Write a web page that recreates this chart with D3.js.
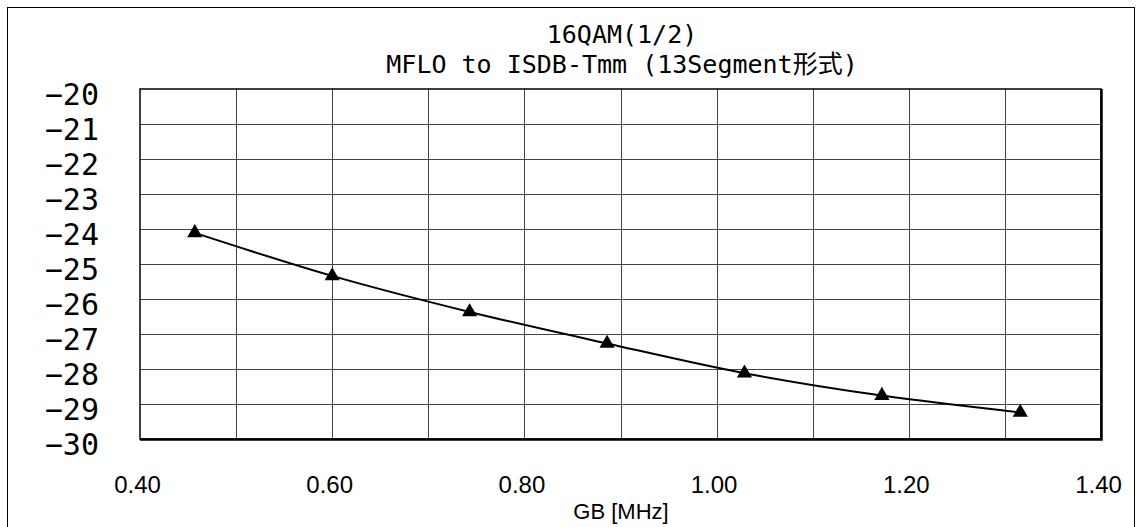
<!DOCTYPE html>
<html>
<head>
<meta charset="utf-8">
<script src="https://cdn.jsdelivr.net/npm/d3@7"></script>
<style>
  html, body { margin: 0; padding: 0; background: #fff; }
  svg { display: block; }
</style>
</head>
<body>
<svg id="chart" width="1142" height="527"></svg>
<script>
// ---- data ----
const titleLines = ["16QAM(1/2)", "MFLO to ISDB-Tmm (13Segment形式)"];
const xAxisTitle = "GB [MHz]";
const gbValues = [0.457, 0.600, 0.743, 0.886, 1.029, 1.172, 1.316];
const levelValues = [-24.11, -25.34, -26.37, -27.27, -28.12, -28.76, -29.24];
const xTickValues = [0.4, 0.6, 0.8, 1.0, 1.2, 1.4];
const xTickLabels = ["0.40", "0.60", "0.80", "1.00", "1.20", "1.40"];
const xGridValues = [0.5, 0.6, 0.7, 0.8, 0.9, 1.0, 1.1, 1.2, 1.3];
const yTickValues = [-20, -21, -22, -23, -24, -25, -26, -27, -28, -29, -30];
const yTickLabels = ["−20", "−21", "−22", "−23", "−24", "−25", "−26", "−27", "−28", "−29", "−30"];

// ---- layout ----
const W = 1142, H = 527;
const plot = { left: 140, right: 1101, top: 89, bottom: 439 };
const svg = d3.select("#chart");

// outer frame
svg.append("rect")
  .attr("x", 7.5).attr("y", 7.5)
  .attr("width", 1127).attr("height", 540)
  .attr("fill", "#fff").attr("stroke", "#000").attr("stroke-width", 1);

const x = d3.scaleLinear().domain([0.4, 1.4]).range([plot.left, plot.right]);
const y = d3.scaleLinear().domain([-30, -20]).range([plot.bottom, plot.top]);

// gridlines
const gridX = svg.append("g")
  .attr("transform", `translate(0,${plot.bottom})`)
  .call(d3.axisBottom(x).tickValues(xGridValues).tickSize(-(plot.bottom - plot.top)).tickFormat(""));
gridX.select(".domain").remove();
gridX.selectAll("line").attr("stroke", "#444").attr("stroke-width", 1).attr("shape-rendering", "crispEdges");

const gridY = svg.append("g")
  .attr("transform", `translate(${plot.left},0)`)
  .call(d3.axisLeft(y).tickValues(yTickValues.slice(1, -1)).tickSize(-(plot.right - plot.left)).tickFormat(""));
gridY.select(".domain").remove();
gridY.selectAll("line").attr("stroke", "#444").attr("stroke-width", 1).attr("shape-rendering", "crispEdges");

// plot border
svg.append("rect")
  .attr("x", plot.left).attr("y", plot.top)
  .attr("width", plot.right - plot.left).attr("height", plot.bottom - plot.top)
  .attr("fill", "none").attr("stroke", "#000").attr("stroke-width", 1.5);
svg.append("path")
  .attr("d", `M${plot.left},${plot.bottom + 0.5}H${plot.right + 0.5}V${plot.top}`)
  .attr("fill", "none").attr("stroke", "#000").attr("stroke-width", 2.5);

// y axis labels
const yAxis = svg.append("g")
  .attr("transform", `translate(${plot.left},0)`)
  .call(d3.axisLeft(y).tickValues(yTickValues).tickSize(0).tickPadding(41)
    .tickFormat((d, i) => yTickLabels[i]));
yAxis.select(".domain").remove();
yAxis.selectAll("text")
  .attr("font-family", "'DejaVu Sans Mono', monospace")
  .attr("font-size", 30)
  .attr("fill", "#000")
  .attr("dy", "0.5em");

// x axis labels
const xAxis = svg.append("g")
  .attr("transform", `translate(-3,${plot.bottom})`)
  .call(d3.axisBottom(x).tickValues(xTickValues).tickSize(0).tickPadding(37)
    .tickFormat((d, i) => xTickLabels[i]));
xAxis.select(".domain").remove();
xAxis.selectAll("text")
  .attr("font-family", "'Liberation Sans', Arial, sans-serif")
  .attr("font-size", 24)
  .attr("fill", "#000");

// x axis title
svg.append("text")
  .attr("x", 621).attr("y", 519)
  .attr("text-anchor", "middle")
  .attr("font-family", "'Liberation Sans', Arial, sans-serif")
  .attr("font-size", 22)
  .text(xAxisTitle);

// title
svg.selectAll("text.title")
  .data(titleLines)
  .join("text")
  .attr("class", "title")
  .attr("x", 622)
  .attr("y", (d, i) => 43 + i * 30)
  .attr("text-anchor", "middle")
  .attr("font-family", "'DejaVu Sans Mono', 'Noto Sans CJK JP', monospace")
  .attr("font-size", 25)
  .text(d => d);

// line + markers
const pts = gbValues.map((g, i) => [g, levelValues[i]]);
svg.append("path")
  .datum(pts)
  .attr("fill", "none")
  .attr("stroke", "#000")
  .attr("stroke-width", 2)
  .attr("d", d3.line().x(d => x(d[0])).y(d => y(d[1])).curve(d3.curveCatmullRom.alpha(0.5)));

svg.selectAll("path.marker")
  .data(pts)
  .join("path")
  .attr("class", "marker")
  .attr("transform", d => `translate(${x(d[0])},${y(d[1])})`)
  .attr("d", d3.symbol().type(d3.symbolTriangle).size(100))
  .attr("fill", "#000");
</script>
</body>
</html>
